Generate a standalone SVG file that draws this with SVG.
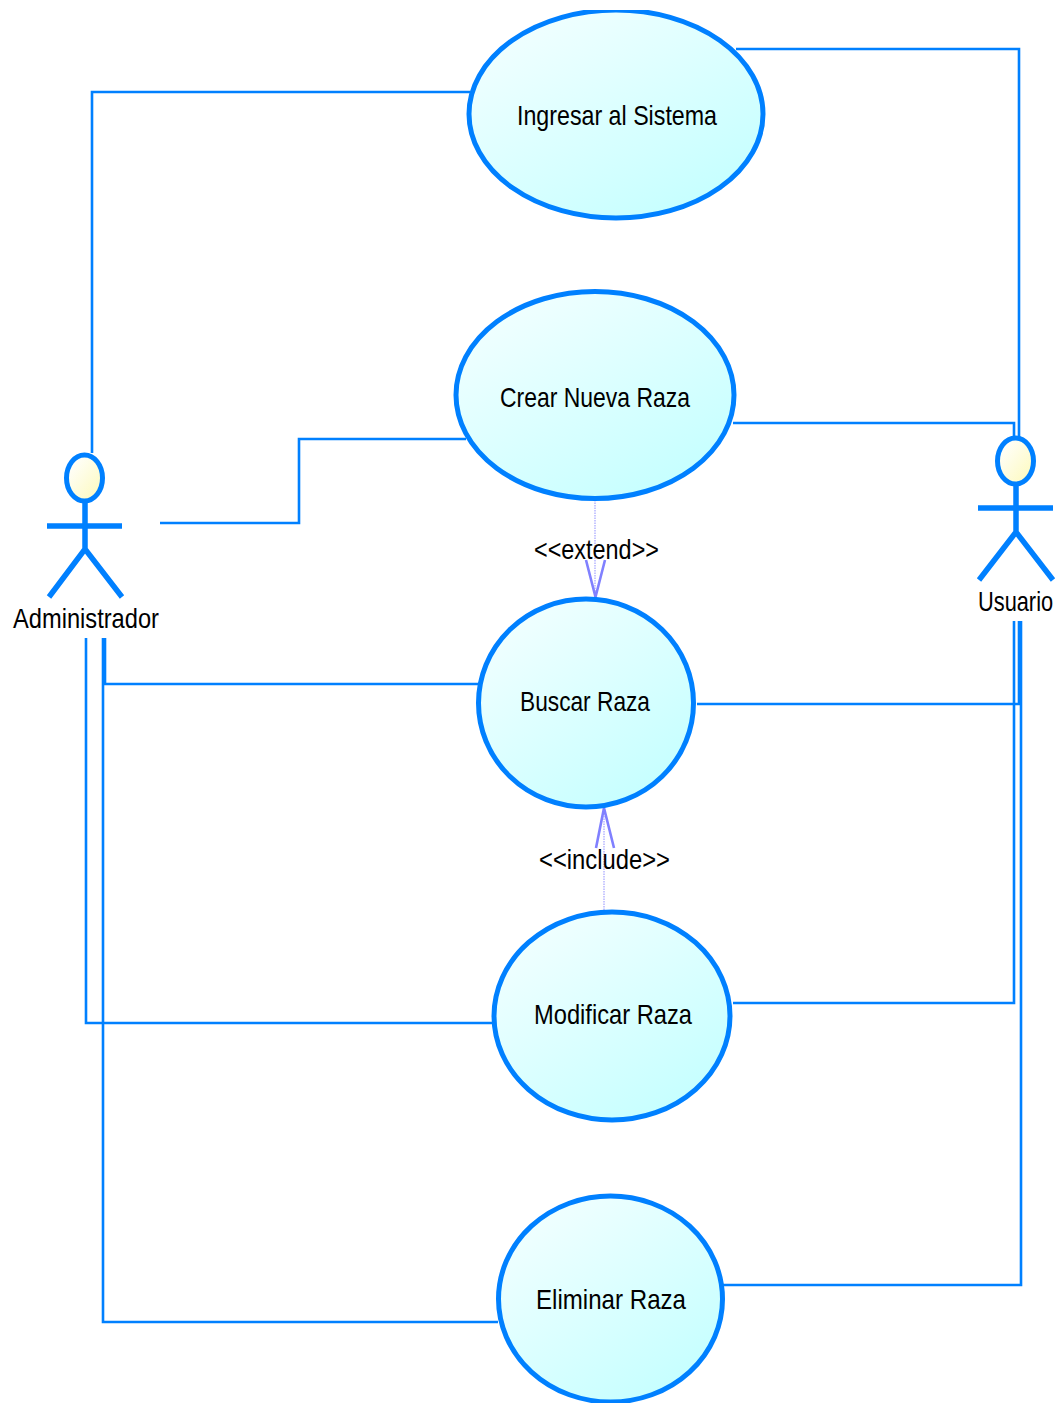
<svg xmlns="http://www.w3.org/2000/svg" width="1060" height="1403" viewBox="0 0 1060 1403">
<defs>
<linearGradient id="uc" x1="0.15" y1="0.05" x2="0.85" y2="0.95"><stop offset="0" stop-color="#f2ffff"/><stop offset="1" stop-color="#c4ffff"/></linearGradient>
<linearGradient id="head" x1="0.1" y1="0.1" x2="0.9" y2="0.9"><stop offset="0" stop-color="#ffffff"/><stop offset="1" stop-color="#fdfac0"/></linearGradient>
<clipPath id="top"><rect x="0" y="10" width="1060" height="1393"/></clipPath>
</defs>
<style>
text{font-family:"Liberation Sans",Arial,sans-serif;font-size:28.5px;fill:#000}
.uc{fill:url(#uc);stroke:#0080ff;stroke-width:5}
.conn{fill:none;stroke:#0080ff;stroke-width:2.6}
.dep{fill:none;stroke:#8f8fff;stroke-width:1;stroke-dasharray:1.5 1}
.head{fill:none;stroke:#8080ff;stroke-width:2.6}
.limb{fill:none;stroke:#0080ff;stroke-width:5.500}
.hd{fill:url(#head);stroke:#0080ff;stroke-width:5}
</style>
<rect width="1060" height="1403" fill="#fff"/>
<g id="connectors">
<path class="conn" d="M92 453V92H470"/>
<path class="conn" d="M160 523H299V439H466"/>
<path class="conn" d="M105 638V684H478"/>
<path class="conn" d="M86 638V1023H493"/>
<path class="conn" d="M103 638V1322H498"/>
<path class="conn" d="M736 49H1019V438"/>
<path class="conn" d="M733 423H1014V438"/>
<path class="conn" d="M697 704H1019V621"/>
<path class="conn" d="M733 1003H1014V621"/>
<path class="conn" d="M723 1285H1021V621"/>
<path class="dep" d="M595 500V598"/>
<path class="head" d="M586 560L595.500 597L605 560"/>
<path class="dep" d="M604 910V808"/>
<path class="head" d="M596 848L604 808L614 848"/>
</g>
<g id="uc-ingresar" clip-path="url(#top)"><ellipse class="uc" cx="616" cy="114" rx="147" ry="104"/><text x="517" y="125" textLength="200" lengthAdjust="spacingAndGlyphs">Ingresar al Sistema</text></g>
<g id="uc-crear"><ellipse class="uc" cx="595" cy="395" rx="139" ry="103.500"/><text x="500" y="407" textLength="190" lengthAdjust="spacingAndGlyphs">Crear Nueva Raza</text></g>
<g id="uc-buscar"><ellipse class="uc" cx="586" cy="703" rx="107.500" ry="104"/><text x="520" y="711" textLength="130" lengthAdjust="spacingAndGlyphs">Buscar Raza</text></g>
<g id="uc-modificar"><ellipse class="uc" cx="612" cy="1016" rx="118" ry="104"/><text x="534" y="1024" textLength="158" lengthAdjust="spacingAndGlyphs">Modificar Raza</text></g>
<g id="uc-eliminar"><ellipse class="uc" cx="610.500" cy="1299" rx="112" ry="103"/><text x="536" y="1309" textLength="150" lengthAdjust="spacingAndGlyphs">Eliminar Raza</text></g>
<g id="actor-administrador">
<ellipse class="hd" cx="84.500" cy="478" rx="18" ry="23"/>
<path class="limb" d="M85 502V549M47 526H122M49 597L85 549L122 597"/>
<text x="13" y="628" textLength="146" lengthAdjust="spacingAndGlyphs">Administrador</text>
</g>
<g id="actor-usuario">
<ellipse class="hd" cx="1015.500" cy="461" rx="18" ry="23"/>
<path class="limb" d="M1016 485V532M978 508H1053M979 580L1016 532L1053 580"/>
<text transform="translate(978 611) scale(0.765 1)">Usuario</text>
</g>
<g id="labels">
<text x="534" y="559" textLength="125" lengthAdjust="spacingAndGlyphs">&lt;&lt;extend&gt;&gt;</text>
<text x="539" y="869" textLength="131" lengthAdjust="spacingAndGlyphs">&lt;&lt;include&gt;&gt;</text>
</g>
</svg>
